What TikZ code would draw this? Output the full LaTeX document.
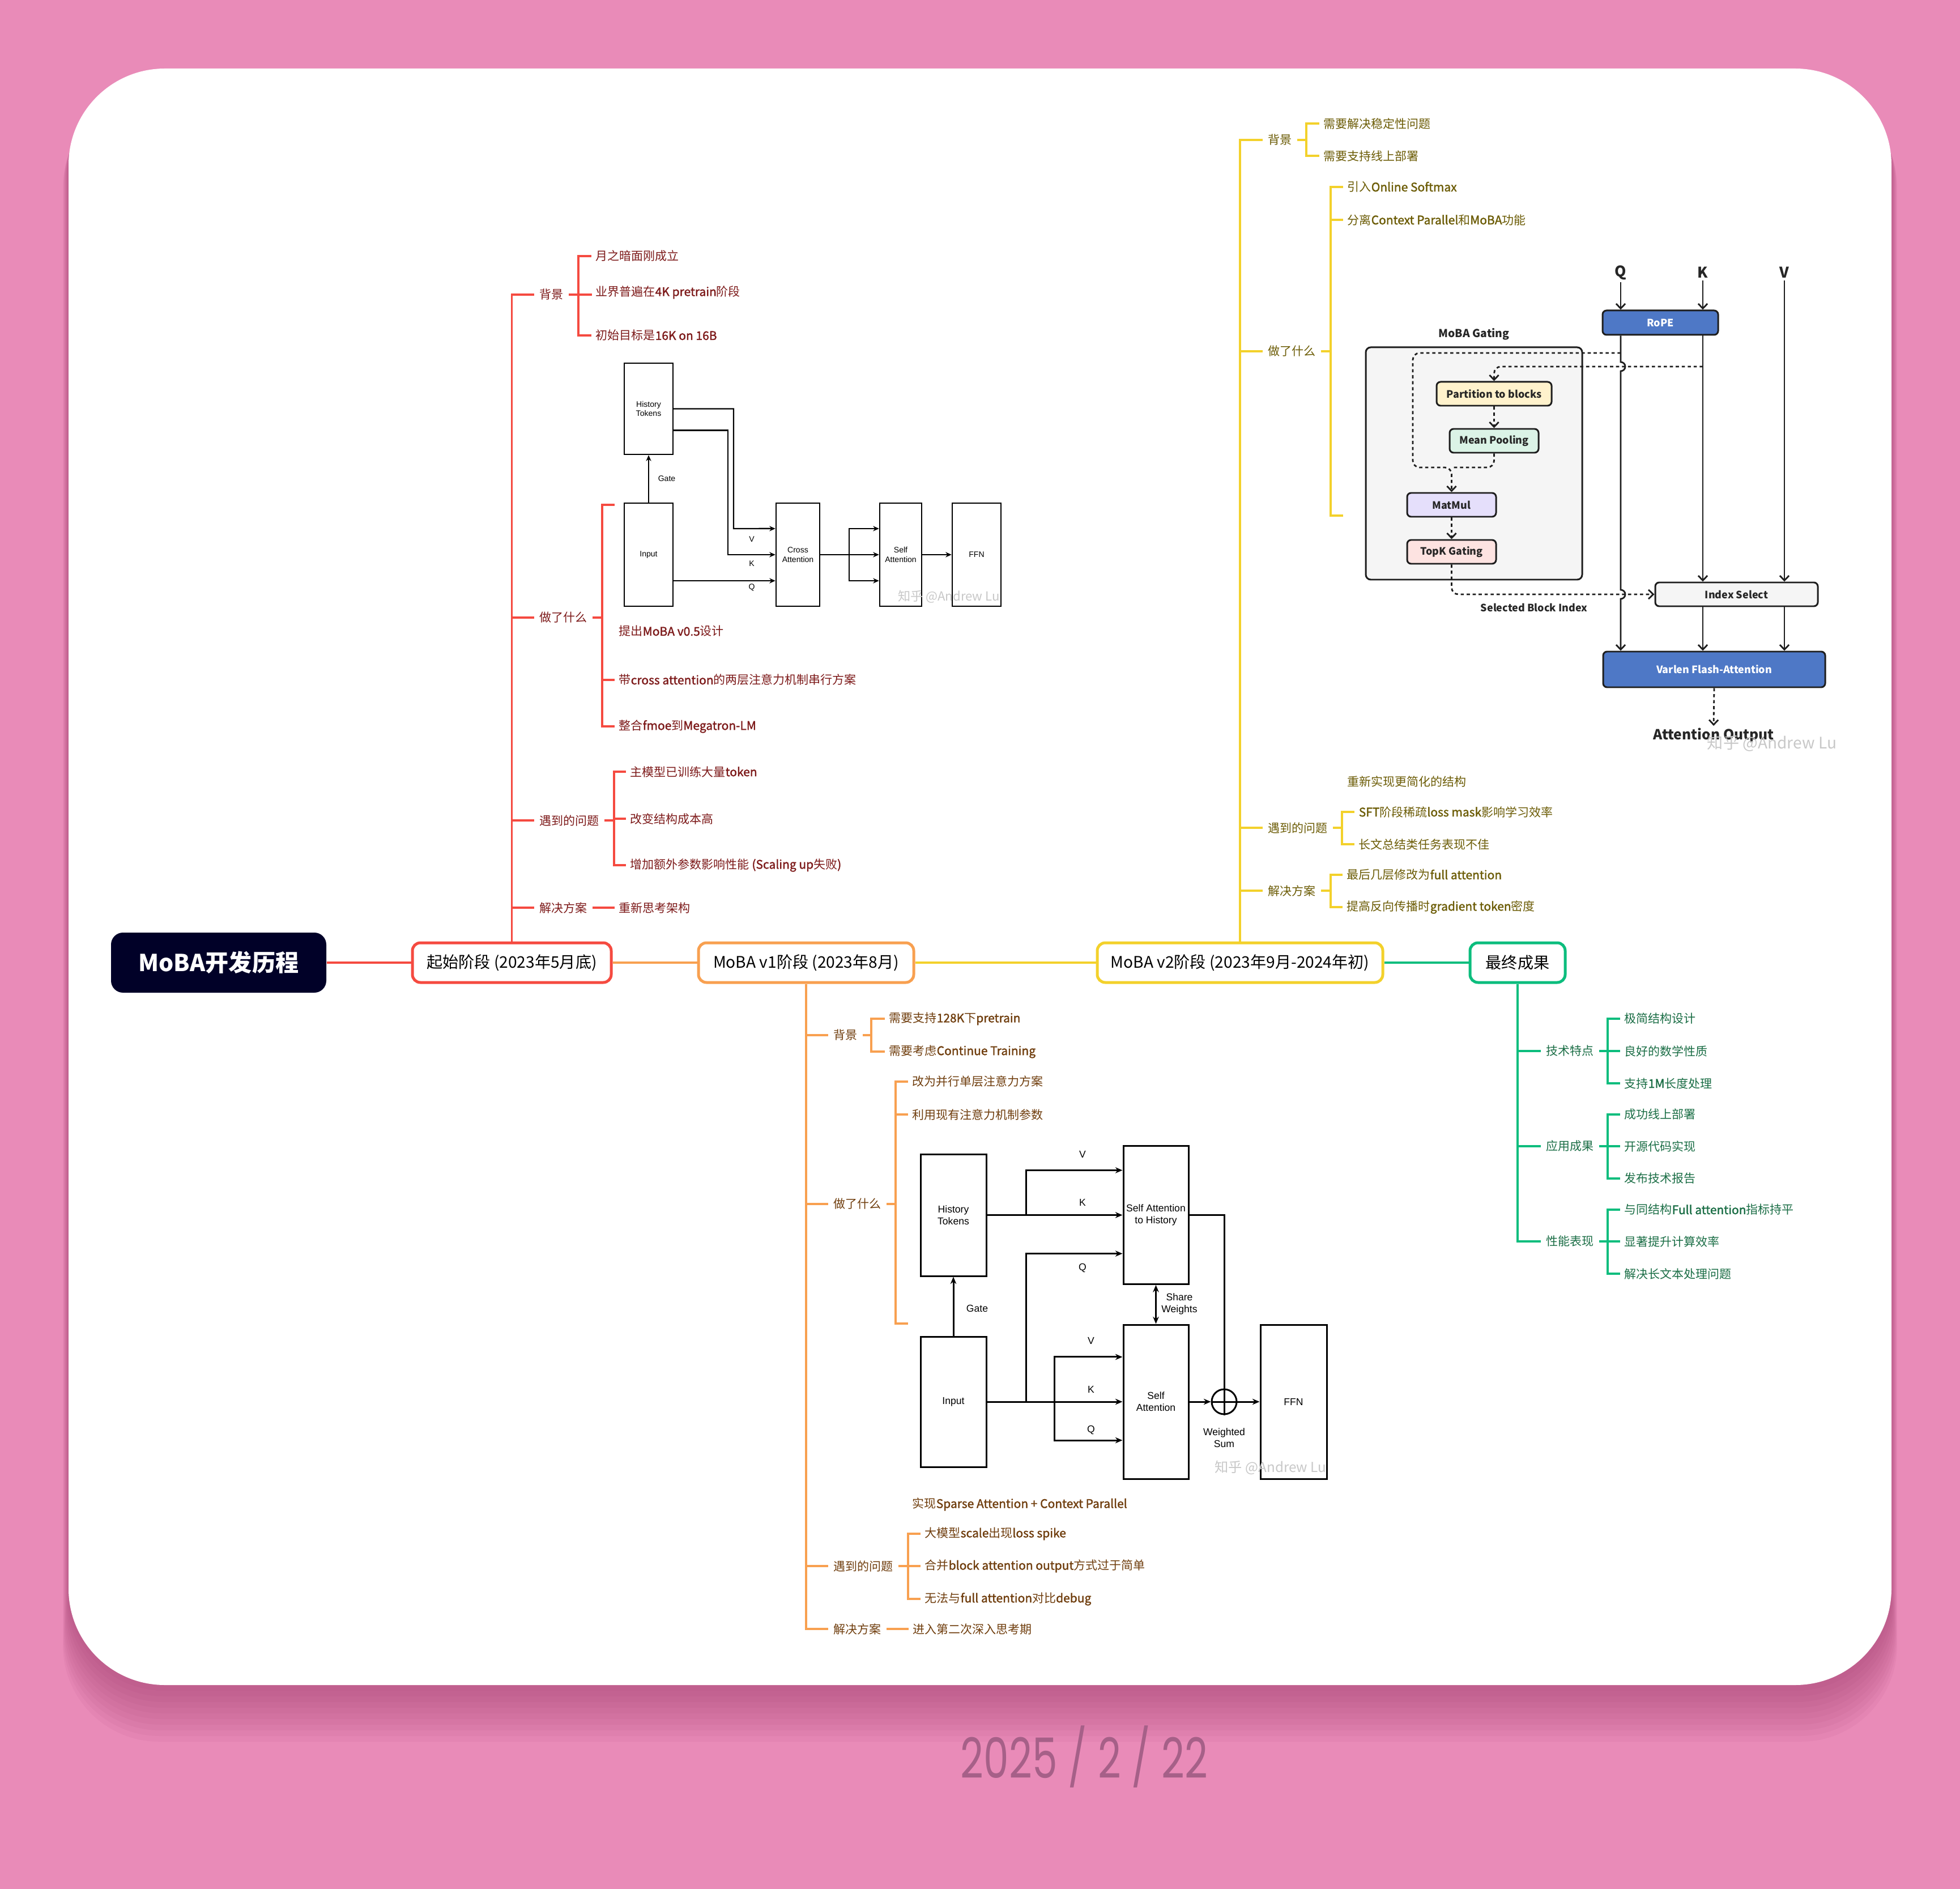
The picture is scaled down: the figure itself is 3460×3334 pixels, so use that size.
\documentclass[tikz,border=0pt]{standalone}
\usepackage{fontspec}
\usepackage{graphicx}
\setmainfont{Noto Sans CJK SC}
\newfontfamily\lbfont{Noto Sans CJK SC}[FakeBold=1.6]
\newfontfamily\dfont{Liberation Sans}
\newfontfamily\datefont{Poppins}
\usetikzlibrary{arrows.meta,calc}
\definecolor{bgpink}{RGB}{233,139,184}
\definecolor{shadowc}{RGB}{150,50,100}
\definecolor{datec}{RGB}{166,96,136}
\definecolor{rootc}{RGB}{1,1,40}
\definecolor{cr}{RGB}{245,74,64}
\definecolor{co}{RGB}{248,160,80}
\definecolor{cy}{RGB}{243,209,43}
\definecolor{cg}{RGB}{12,189,125}
\definecolor{tr}{RGB}{125,26,26}
\definecolor{to}{RGB}{112,62,14}
\definecolor{ty}{RGB}{108,92,6}
\definecolor{tg}{RGB}{27,110,70}
\definecolor{gblue}{RGB}{78,120,198}
\definecolor{gyel}{RGB}{255,242,204}
\definecolor{ggrn}{RGB}{219,243,230}
\definecolor{gpur}{RGB}{229,223,251}
\definecolor{gpnk}{RGB}{253,227,225}
\definecolor{ggry}{RGB}{245,245,245}
\definecolor{gline}{RGB}{30,30,30}
\definecolor{wmc}{RGB}{200,200,200}
\newcommand\Lb[1]{{\lbfont #1}}
\newcommand\gfont{\bfseries\fontsize{5.1}{6}\selectfont}
\begin{document}
\begin{tikzpicture}[x=0.01cm, y=-0.01cm,
  wh/.style 2 args={minimum width=#1*0.01cm, minimum height=#2*0.01cm},
  lone/.style={draw=#1, line width=1.42pt, rounded corners=4pt, fill=white, inner sep=0pt, font=\fontsize{8}{10}\selectfont, text=black},
  mainl/.style={draw=#1, line width=1.25pt},
  brl/.style={draw=#1, line width=1pt},
  lab/.style={anchor=west, inner xsep=2.56pt, inner ysep=0pt, font=\fontsize{5.97}{7}\selectfont, text=#1},
  leaf/.style={anchor=west, inner xsep=2pt, inner ysep=0pt, font=\fontsize{5.97}{7}\selectfont, text=#1},
  dboxa/.style={draw=black, line width=0.7pt, inner sep=0pt, align=center, font=\dfont\fontsize{4}{4.8}\selectfont},
  dboxb/.style={draw=black, line width=0.85pt, inner sep=0pt, align=center, font=\dfont\fontsize{5}{6}\selectfont},
  dlbla/.style={inner sep=0pt, align=center, font=\dfont\fontsize{4}{4.8}\selectfont},
  dlblb/.style={inner sep=0pt, align=center, font=\dfont\fontsize{5}{6}\selectfont},
  arra/.style={draw=black, line width=0.7pt, -{Stealth[length=3pt,width=2.6pt]}},
  arrb/.style={draw=black, line width=0.85pt, -{Stealth[length=3.6pt,width=3pt]}},
  linb/.style={draw=black, line width=0.85pt},
  gbox/.style={draw=gline, line width=0.85pt, rounded corners=2pt, inner sep=0pt, font=\gfont, text=black!85},
  gt/.style={inner sep=1pt, font=\gfont, text=black!85},
  garr/.style={draw=gline, line width=0.8pt, -{Straight Barb[length=2.4pt,width=4.6pt]}},
  gdash/.style={draw=gline, line width=0.8pt, dash pattern=on 1.6pt off 1.4pt},
  gdarr/.style={gdash, -{Straight Barb[length=2.4pt,width=4.6pt]}},
  wm/.style={inner sep=0pt, text=wmc, font=\fontsize{6.3}{7}\selectfont}
]
\useasboundingbox (0,0) rectangle (3460,3334);
\fill[bgpink] (0,0) rectangle (3460,3334);
% card shadow
\foreach \i in {1,...,10}{
  \fill[shadowc, opacity=0.06, rounded corners=1.7cm] (121-\i*1,131+\i*3) rectangle (3339+\i*1,2974+\i*10);
}
\fill[white, rounded corners=1.7cm] (121,121) rectangle (3339,2974);
% date
\node[font=\datefont\fontsize{28}{30}\selectfont, text=datec, inner sep=0pt] (date) at (1914,3100) {\scalebox{0.72}[1]{2025 / 2 / 22}};

% ---------- main nodes ----------
\node[fill=rootc, rounded corners=6pt, wh={380}{106}, inner sep=0pt, text=white, font=\bfseries\fontsize{11.7}{14}\selectfont] (root) at (386,1699) {MoBA开发历程};
\node[lone=cr, wh={351}{70}] (s1) at (903.5,1699) {起始阶段 (2023年5月底)};
\node[lone=co, wh={380}{70}] (s2) at (1423,1699) {MoBA v1阶段 (2023年8月)};
\node[lone=cy, wh={504}{70}] (s3) at (2189,1699) {MoBA v2阶段 (2023年9月-2024年初)};
\node[lone=cg, wh={168}{70}] (s4) at (2679,1699) {最终成果};
\draw[mainl=cr] (root) -- (s1);
\draw[mainl=co] (s1) -- (s2);
\draw[mainl=cy] (s2) -- (s3);
\draw[mainl=cg] (s3) -- (s4);

% ---------- red branch ----------
\node[lab=tr] (r1) at (943,520) {背景};
\node[lab=tr] (r2) at (943,1090) {做了什么};
\node[lab=tr] (r3) at (943,1448) {遇到的问题};
\node[lab=tr] (r4) at (943,1602) {解决方案};
\foreach \n in {r1,r2,r3,r4} \draw[brl=cr] (s1.north) |- (\n.west);
\node[leaf=tr] (r1a) at (1044,452) {月之暗面刚成立};
\node[leaf=tr] (r1b) at (1044,516) {业界普遍在\Lb{4K pretrain}阶段};
\node[leaf=tr] (r1c) at (1044,592) {初始目标是\Lb{16K on 16B}};
\foreach \n in {r1a,r1c} \draw[brl=cr] (r1.east) -| ([xshift=-0.23cm]\n.west) -- (\n.west);
\draw[brl=cr] (r1.east) -- ([xshift=0.41cm]r1.east);
\coordinate (r2img) at (1085,891);
\node[leaf=tr] (r2a) at (1085,1114) {提出\Lb{MoBA v0.5}设计};
\node[leaf=tr] (r2b) at (1085,1200) {带\Lb{cross attention}的两层注意力机制串行方案};
\node[leaf=tr] (r2c) at (1085,1282) {整合\Lb{fmoe}到\Lb{Megatron-LM}};
\foreach \n in {r2img,r2b,r2c} \draw[brl=cr] (r2.east) -| ([xshift=-0.22cm]\n.west) -- (\n.west);
\node[leaf=tr] (r3a) at (1105,1362) {主模型已训练大量\Lb{token}};
\node[leaf=tr] (r3b) at (1105,1445) {改变结构成本高};
\node[leaf=tr] (r3c) at (1105,1527) {增加额外参数影响性能 \Lb{(Scaling up}失败\Lb{)}};
\foreach \n in {r3a,r3b,r3c} \draw[brl=cr] (r3.east) -| ([xshift=-0.21cm]\n.west) -- (\n.west);
\node[leaf=tr] (r4a) at (1085,1602) {重新思考架构};
\draw[brl=cr] (r4.east) -- (r4a.west);

% v0.5 diagram
\node[dboxa, wh={86}{161}] (ht0) at (1145,721.5) {History\\Tokens};
\node[dboxa, wh={86}{182}] (in0) at (1145,979) {Input};
\node[dboxa, wh={77}{182}] (ca0) at (1408.5,979) {Cross\\Attention};
\node[dboxa, wh={74}{182}] (sa0) at (1590,979) {Self\\Attention};
\node[dboxa, wh={86}{182}] (ffn0) at (1724,979) {FFN};
\draw[arra] (in0) -- (ht0);
\draw[arra] (ht0.east) -| (1295,933) -- ([yshift=0.46cm]ca0.west);
\draw[arra] ([yshift=-0.38cm]ht0.east) -| (1285,979) -- (ca0.west);
\draw[arra] ([yshift=-0.46cm]in0.east) -- ([yshift=-0.46cm]ca0.west);
\coordinate (cb0) at (1499,979);
\draw[arra] (ca0.east) -- (sa0.west);
\draw[arra] (cb0) |- ([yshift=0.46cm]sa0.west);
\draw[arra] (cb0) |- ([yshift=-0.46cm]sa0.west);
\draw[arra] (sa0.east) -- (ffn0.west);
\node[dlbla] (gate0) at (1177,845) {Gate};
\node[dlbla] (v0) at (1327,952) {V};
\node[dlbla] (k0) at (1327,995) {K};
\node[dlbla] (q0) at (1327,1037) {Q};
\node[wm] (wm0) at (1675,1053) {知乎 @Andrew Lu};

% ---------- orange branch ----------
\node[lab=to] (o1) at (1462,1827) {背景};
\node[lab=to] (o2) at (1462,2125) {做了什么};
\node[lab=to] (o3) at (1462,2764) {遇到的问题};
\node[lab=to] (o4) at (1462,2875) {解决方案};
\foreach \n in {o1,o2,o3,o4} \draw[brl=co] (s2.south) |- (\n.west);
\node[leaf=to] (o1a) at (1562,1798) {需要支持\Lb{128K}下\Lb{pretrain}};
\node[leaf=to] (o1b) at (1562,1856) {需要考虑\Lb{Continue Training}};
\foreach \n in {o1a,o1b} \draw[brl=co] (o1.east) -| ([xshift=-0.24cm]\n.west) -- (\n.west);
\node[leaf=to] (o2a) at (1603,1909) {改为并行单层注意力方案};
\node[leaf=to] (o2b) at (1603,1967) {利用现有注意力机制参数};
\coordinate (o2img) at (1603,2336);
\node[leaf=to] (o2c) at (1603,2655) {实现\Lb{Sparse Attention + Context Parallel}};
\foreach \n in {o2a,o2b,o2img} \draw[brl=co] (o2.east) -| ([xshift=-0.22cm]\n.west) -- (\n.west);
\node[leaf=to] (o3a) at (1625,2707) {大模型\Lb{scale}出现\Lb{loss spike}};
\node[leaf=to] (o3b) at (1625,2764) {合并\Lb{block attention output}方式过于简单};
\node[leaf=to] (o3c) at (1625,2822) {无法与\Lb{full attention}对比\Lb{debug}};
\foreach \n in {o3a,o3b,o3c} \draw[brl=co] (o3.east) -| ([xshift=-0.22cm]\n.west) -- (\n.west);
\node[leaf=to] (o4a) at (1604,2875) {进入第二次深入思考期};
\draw[brl=co] (o4.east) -- (o4a.west);

% v1 diagram
\node[dboxb, wh={116}{215}] (ht1) at (1683,2144.5) {History\\Tokens};
\node[dboxb, wh={116}{230}] (in1) at (1683,2474) {Input};
\node[dboxb, wh={115}{244}] (sah) at (2040.5,2144.5) {Self Attention\\to History};
\node[dboxb, wh={115}{272}] (sa1) at (2040.5,2474) {Self\\Attention};
\node[dboxb, wh={117}{272}] (ffn1) at (2283.5,2474) {FFN};
\node[circle, draw=black, line width=0.85pt, minimum size=44*0.01cm, inner sep=0pt] (ws) at (2161,2474) {};
\draw[linb] (ws.north) -- (ws.south) (ws.west) -- (ws.east);
\coordinate (hb1) at (1811,2144.5);
\coordinate (ib1) at (1811,2474);
\coordinate (ib2) at (1861,2474);
\draw[arrb] (in1) -- (ht1);
\draw[arrb] (ht1.east) -- (sah.west);
\draw[arrb] (hb1) |- ([yshift=0.79cm]sah.west);
\draw[arrb] (in1.east) -- (sa1.west);
\draw[arrb] (ib1) |- ([yshift=-0.68cm]sah.west);
\draw[arrb] (ib2) |- ([yshift=0.79cm]sa1.west);
\draw[arrb] (ib2) |- ([yshift=-0.68cm]sa1.west);
\draw[arrb, {Stealth[length=3.6pt,width=3pt]}-{Stealth[length=3.6pt,width=3pt]}] (sah.south) -- (sa1.north);
\draw[linb] (sah.east) -| (ws.north);
\draw[arrb] (sa1.east) -- (ws.west);
\draw[arrb] (ws.east) -- (ffn1.west);
\node[dlblb] (gate1) at (1725,2309) {Gate};
\node[dlblb] (v1a) at (1911,2037) {V};
\node[dlblb] (k1a) at (1911,2122) {K};
\node[dlblb] (q1a) at (1911,2238) {Q};
\node[dlblb] (v1b) at (1926,2366) {V};
\node[dlblb] (k1b) at (1926,2452) {K};
\node[dlblb] (q1b) at (1926,2524) {Q};
\node[dlblb] (shw) at (2082,2301) {Share\\Weights};
\node[dlblb] (wsum) at (2161,2538) {Weighted\\Sum};
\node[wm, font=\fontsize{6.9}{8}\selectfont] (wm1) at (2243,2590) {知乎 @Andrew Lu};

% ---------- yellow branch ----------
\node[lab=ty] (y1) at (2229,247) {背景};
\node[lab=ty] (y2) at (2229,620) {做了什么};
\node[lab=ty] (y3) at (2229,1461) {遇到的问题};
\node[lab=ty] (y4) at (2229,1572) {解决方案};
\foreach \n in {y1,y2,y3,y4} \draw[brl=cy] (s3.north) |- (\n.west);
\node[leaf=ty] (y1a) at (2329,218) {需要解决稳定性问题};
\node[leaf=ty] (y1b) at (2329,275) {需要支持线上部署};
\foreach \n in {y1a,y1b} \draw[brl=cy] (y1.east) -| ([xshift=-0.23cm]\n.west) -- (\n.west);
\node[leaf=ty] (y2a) at (2371,330) {引入\Lb{Online Softmax}};
\node[leaf=ty] (y2b) at (2371,388) {分离\Lb{Context Parallel}和\Lb{MoBA}功能};
\coordinate (y2img) at (2371,910);
\node[leaf=ty] (y2c) at (2371,1379) {重新实现更简化的结构};
\foreach \n in {y2a,y2b,y2img} \draw[brl=cy] (y2.east) -| ([xshift=-0.22cm]\n.west) -- (\n.west);
\node[leaf=ty] (y3a) at (2391,1433) {\Lb{SFT}阶段稀疏\Lb{loss mask}影响学习效率};
\node[leaf=ty] (y3b) at (2391,1490) {长文总结类任务表现不佳};
\foreach \n in {y3a,y3b} \draw[brl=cy] (y3.east) -| ([xshift=-0.22cm]\n.west) -- (\n.west);
\node[leaf=ty] (y4a) at (2370,1544) {最后几层修改为\Lb{full attention}};
\node[leaf=ty] (y4b) at (2370,1601) {提高反向传播时\Lb{gradient token}密度};
\foreach \n in {y4a,y4b} \draw[brl=cy] (y4.east) -| ([xshift=-0.21cm]\n.west) -- (\n.west);

% MoBA gating diagram
\node[gt, font=\bfseries\fontsize{7.4}{8}\selectfont] (qL) at (2861,481) {Q};
\node[gt, font=\bfseries\fontsize{7.4}{8}\selectfont] (kL) at (3006,481) {K};
\node[gt, font=\bfseries\fontsize{7.4}{8}\selectfont] (vL) at (3150,481) {V};
\node[gbox, fill=gblue, text=white, wh={204}{43}] (rope) at (2931,569.5) {RoPE};
\node[gt, font=\bfseries\fontsize{5.5}{6}\selectfont] (mgl) at (2602,590) {MoBA Gating};
\node[draw=gline, line width=0.85pt, fill=ggry, rounded corners=2.5pt, wh={382}{410}] (gc) at (2602,818) {};
\node[gbox, fill=gyel, wh={203}{42}] (part) at (2637.5,695) {Partition to blocks};
\node[gbox, fill=ggrn, wh={157}{42}] (mean) at (2637.5,778) {Mean Pooling};
\node[gbox, fill=gpur, wh={157}{42}] (mmul) at (2562.5,891) {MatMul};
\node[gbox, fill=gpnk, wh={157}{42}] (topk) at (2562.5,974) {TopK Gating};
\node[gbox, fill=ggry, wh={287}{42}] (idx) at (3065.5,1049) {Index Select};
\node[gbox, fill=gblue, text=white, wh={392}{63}] (var) at (3026,1181.5) {Varlen Flash-Attention};
\node[gt, font=\bfseries\fontsize{7}{8}\selectfont] (aout) at (3025,1298) {Attention Output};
\node[gt] (sbi) at (2708,1072) {Selected Block Index};
\coordinate (qtap) at (2861,623);
\coordinate (ktap) at (3006,647);
\draw[garr] (qL) -- (qL |- rope.north);
\draw[garr] (kL) -- (kL |- rope.north);
\draw[gdarr, rounded corners=0.12cm] (qtap) -- (2494,623) -- (2494,825) -- (2562.5,825) -- (mmul.north);
\draw[gdash, rounded corners=0.12cm] (mean.south) -- (2637.5,825) -- (2562.5,825);
\draw[gdarr, rounded corners=0.12cm] (ktap) -- (2637.5,647) -- (part.north);
\draw[gdarr] (part.south) -- (mean.north);
\draw[gdarr] (mmul.south) -- (topk.north);
\draw[gdarr, rounded corners=0.12cm] (topk.south) -- (2562.5,1049) -- (idx.west);
\draw[garr] (qL |- rope.south) -- (2861,639) arc[start angle=90, end angle=-90, radius=0.08cm] -- (2861,1041) arc[start angle=90, end angle=-90, radius=0.08cm] -- (qL |- var.north);
\draw[garr] (kL |- rope.south) -- (kL |- idx.north);
\draw[garr] (vL) -- (vL |- idx.north);
\draw[garr] (kL |- idx.south) -- (kL |- var.north);
\draw[garr] (vL |- idx.south) -- (vL |- var.north);
\draw[gdarr] (var.south) -- (aout.north);
\node[wm, font=\fontsize{8}{9}\selectfont] (wm2) at (3128,1312) {知乎 @Andrew Lu};

% ---------- green branch ----------
\node[lab=tg] (g1) at (2720,1855) {技术特点};
\node[lab=tg] (g2) at (2720,2023) {应用成果};
\node[lab=tg] (g3) at (2720,2191) {性能表现};
\foreach \n in {g1,g2,g3} \draw[brl=cg] (s4.south) |- (\n.west);
\node[leaf=tg] (g1a) at (2860,1798) {极简结构设计};
\node[leaf=tg] (g1b) at (2860,1855) {良好的数学性质};
\node[leaf=tg] (g1c) at (2860,1912) {支持\Lb{1M}长度处理};
\node[leaf=tg] (g2a) at (2860,1967) {成功线上部署};
\node[leaf=tg] (g2b) at (2860,2023) {开源代码实现};
\node[leaf=tg] (g2c) at (2860,2080) {发布技术报告};
\node[leaf=tg] (g3a) at (2860,2135) {与同结构\Lb{Full attention}指标持平};
\node[leaf=tg] (g3b) at (2860,2191) {显著提升计算效率};
\node[leaf=tg] (g3c) at (2860,2248) {解决长文本处理问题};
\foreach \n in {g1a,g1b,g1c} \draw[brl=cg] (g1.east) -| ([xshift=-0.22cm]\n.west) -- (\n.west);
\foreach \n in {g2a,g2b,g2c} \draw[brl=cg] (g2.east) -| ([xshift=-0.22cm]\n.west) -- (\n.west);
\foreach \n in {g3a,g3b,g3c} \draw[brl=cg] (g3.east) -| ([xshift=-0.22cm]\n.west) -- (\n.west);
\end{tikzpicture}
\end{document}
